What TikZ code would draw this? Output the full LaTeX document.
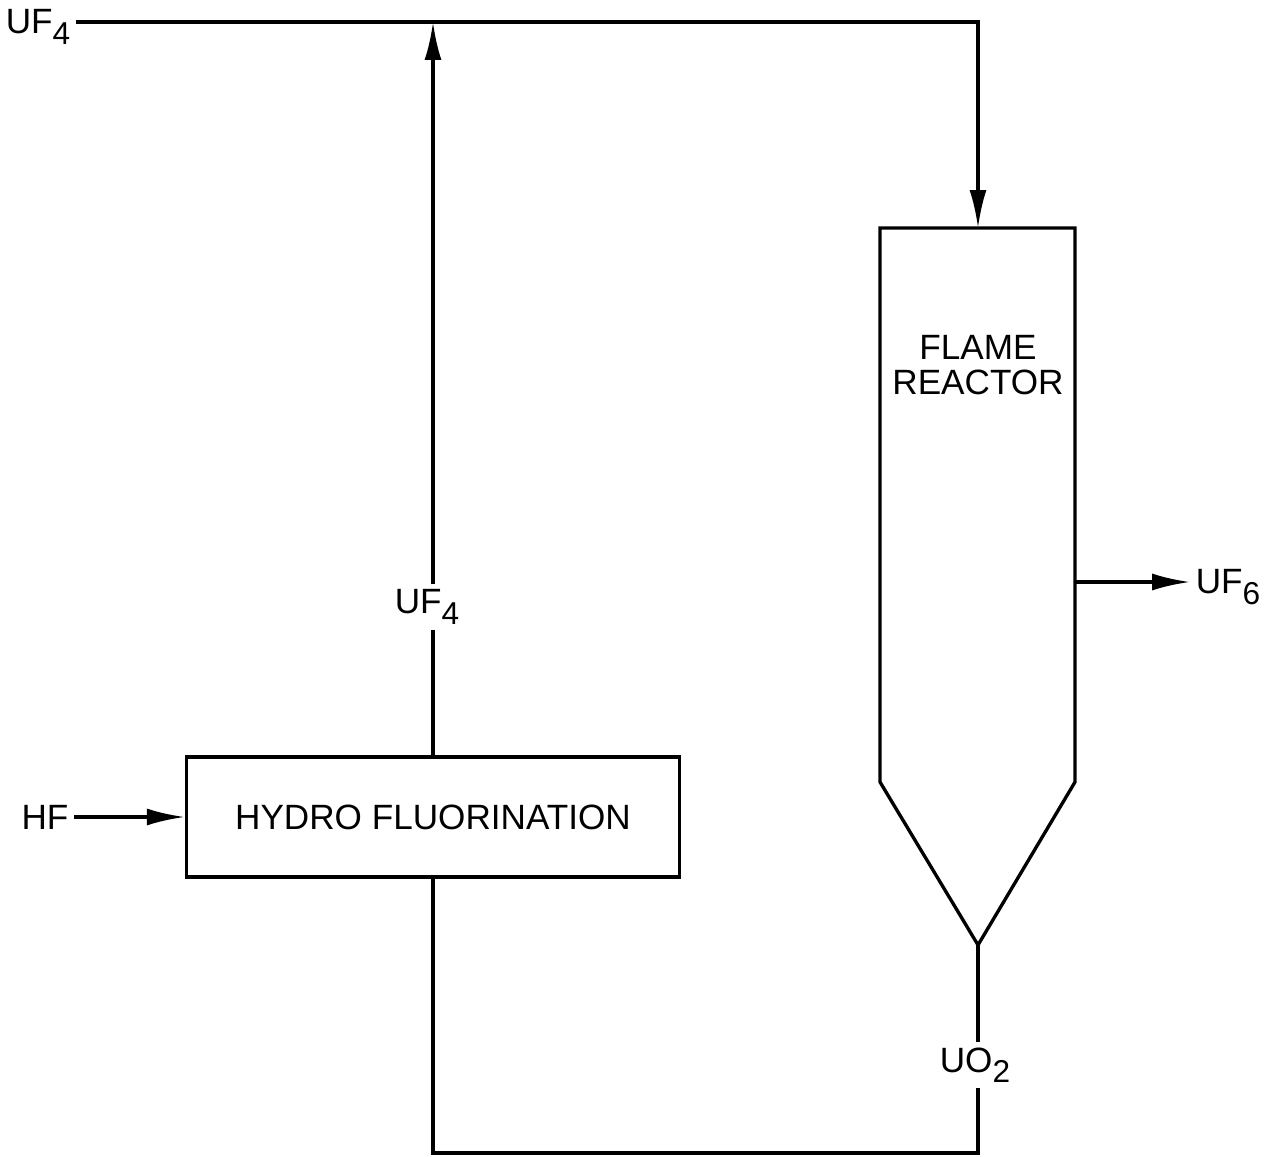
\documentclass[tikz,border=0pt]{standalone}
\usepackage{fontspec}
\setmainfont{Liberation Sans}
\usetikzlibrary{arrows.meta, positioning}
\newcommand{\lowsub}[1]{\raisebox{-0.55ex}{\fontsize{18}{18}\selectfont #1}}

\begin{document}
\begin{tikzpicture}[
        x=0.02cm, y=-0.02cm,
        every node/.style={font=\fontsize{20}{20}\selectfont, inner sep=3pt},
        line/.style={line width=1.9pt},
        flow/.style={line, -{Latex[length=0.76cm, width=0.34cm]}},
        unitbox/.style={draw, line width=1.9pt, minimum width=9.86cm, minimum height=2.4cm}
    ]
        \useasboundingbox (0,0) rectangle (1264,1156);

        % Unidades
        \node[unitbox] (hydro) at (433,817) {HYDRO FLUORINATION};
        \coordinate (rtl) at (880,228);
        \coordinate (rtr) at (1075,228);
        \coordinate (rbl) at (880,782);
        \coordinate (rbr) at (1075,782);
        \coordinate (apex) at (978,945);
        \coordinate (rtop) at (978,228);
        \coordinate (rout) at (1075,582);
        \draw[line] (rtl) -- (rtr) -- (rbr) -- (apex) -- (rbl) -- cycle;
        \node[align=center] (flame) at (978,365) {FLAME\\REACTOR};

        % Rotulos
        \node (uf4a) at (38,27) {UF\lowsub{4}};
        \node (uf4b) at (427,607) {UF\lowsub{4}};
        \node (hf) at (45,817) {HF};
        \node (uf6) at (1228,587) {UF\lowsub{6}};
        \node (uo2) at (975,1065) {UO\lowsub{2}};

        % Pontos de junção
        \coordinate (jtop) at (433,22);
        \coordinate (ctop) at (978,22);
        \coordinate (bl) at (433,1153);
        \coordinate (br) at (978,1153);

        % Fluxos
        \draw[flow] (uf4a.east |- jtop) -- (ctop) -- (rtop);
        \draw[line] (hydro.north) -- (hydro.north |- uf4b.south);
        \draw[flow] (hydro.north |- uf4b.north) -- (jtop);
        \draw[flow] (hf.east) -- (hydro.west);
        \draw[flow] (rout) -- (rout -| uf6.west);
        \draw[line] (apex) -- (apex |- uo2.north);
        \draw[line] (apex |- uo2.south) -- (br) -- (bl) -- (hydro.south);
    \end{tikzpicture}
\end{document}
